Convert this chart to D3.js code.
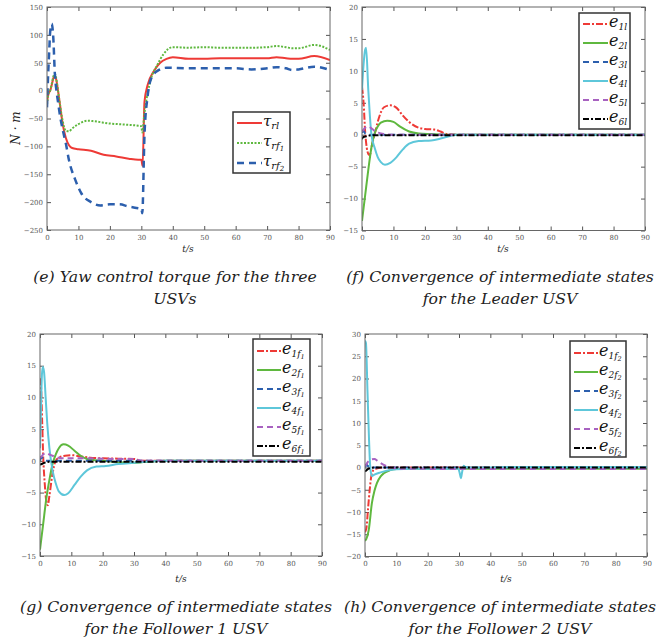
<!DOCTYPE html>
<html><head><meta charset="utf-8">
<script src="https://cdn.jsdelivr.net/npm/d3@7"></script>
<style>body{margin:0;background:#fff}svg{display:block}
svg text{font-family:"DejaVu Serif","Liberation Serif",serif;}
</style>
</head><body><svg id="c" width="666" height="642"></svg>
<script>
// ---------- DATA ----------
// (e) yaw control torque
const tRl  = [0,0.5,1,1.5,2,2.5,3,3.5,4,5,6,7,8,10,14,18,22,26,29,30,30.4,31,32,34,36,38,40,45,50,55,60,65,70,73,76,78,80,85,90];
const tauRl= [-20,-5,0,10,22,27,18,0,-20,-60,-85,-98,-103,-105,-108,-115,-118,-122,-124,-124,-135,-20,10,35,50,57,60,57,57,58,58,58,58,60,58,57,57,62,55];
const tRf1 = [0,0.5,1,1.5,2,2.5,3,3.5,4,5,6,7,8,10,13,15,20,25,29,30,30.3,31,32,33,35,37,40,45,50,55,60,65,70,73,76,78,80,85,90];
const tauRf1=[-25,-5,0,12,25,30,20,0,-20,-55,-72,-73,-68,-60,-54,-55,-59,-61,-63,-64,-75,-40,-5,20,45,65,78,77,78,77,77,77,78,80,78,76,76,82,73];
const tRf2 = [0,0.3,0.7,1,1.5,2,2.5,3,3.5,4,5,6,7,9,11,14,17,20,23,26,29,30,30.3,31,32,33,35,38,45,50,55,60,65,70,73,76,78,80,85,90];
const tauRf2=[-30,20,70,105,120,95,30,0,-20,-40,-70,-95,-125,-160,-185,-200,-206,-204,-204,-208,-211,-212,-220,-80,-10,20,35,41,40,40,40,40,38,40,42,40,37,38,43,37];

// (f) leader
const tE1l=[0,0.5,1,1.5,2,2.5,3,4,5,6,7,9,11,13,15,18,20,23,25,27,30,90];
const e1l =[7.5,5,0.5,-2,-3,-3.2,-2,0,2,3.5,4.3,4.6,4.2,3,2,1.1,0.9,0.8,0.5,0.1,0,0];
const tE2l=[0,1,2,3,4,5,6,8,10,12,15,18,22,28,90];
const e2l =[-13.5,-9.5,-5.5,-2,0.2,1.3,1.9,2.2,2,1.3,0.5,0.2,0.1,0,0];
const tE3l=[0,0.5,1,2,3,90];
const e3l =[0.3,0.6,0.2,0,0,0];
const tE4l=[0,0.5,1,1.3,2,2.5,3,4,5,6,7.3,9,11,13,15,18,22,25,28,30,90];
const e4l =[7,11,13.3,13.6,7,3,0,-2,-3.5,-4.3,-4.7,-4.4,-3.5,-2.3,-1.4,-1,-0.9,-0.6,-0.2,0,0];
const tE5l=[0,0.5,1,2,3,4,6,8,10,90];
const e5l =[0.5,0.8,1.1,1.3,1.0,0.6,0.2,0.05,0,0];
const tE6l=[0,0.3,1,2,3,5,90];
const e6l =[-0.7,-0.4,-0.3,-0.15,-0.1,-0.1,-0.1];

// (g) follower 1
const tE1f1=[0,0.3,0.7,1,1.5,2,2.5,3,4,5,6,8,10,13,16,20,25,30,31,32,90];
const e1f1 =[13,12,6,1,-3.5,-6.3,-7,-5.5,-2,0,0.5,0.8,0.9,0.7,0.5,0.4,0.35,0.3,0.2,0,0];
const tE2f1=[0,1,2,3,4,5,6,7.5,9,11,13,15,20,25,30,33,40,90];
const e2f1 =[-14,-10,-6,-3,-0.5,1,2,2.6,2.4,1.6,0.8,0.3,0,-0.2,-0.3,-0.2,0,0];
const tE3f1=[0,0.5,1,2,90];
const e3f1 =[0,0.6,0.3,0,0];
const tE4f1=[0,0.3,0.6,0.9,1.3,1.8,2.3,3,4,5,6,7.8,9,11,13,15,18,21,25,30,35,40,90];
const e4f1 =[2,8,13.5,14.8,14,10,6,2,-1.5,-3.5,-4.8,-5.4,-5.1,-3.8,-2.5,-1.5,-0.9,-0.8,-0.5,-0.3,-0.1,0,0];
const tE5f1=[0,0.5,1,2,3,4,6,8,10,15,20,25,30,31,33,90];
const e5f1 =[0.5,0.7,1.0,1.2,1.0,0.8,0.5,0.4,0.4,0.4,0.35,0.3,0.3,0.2,0,0];
const tE6f1=[0,0.5,1,2,3,5,90];
const e6f1 =[-0.6,-0.5,-0.4,-0.2,-0.15,-0.15,-0.15];

// (h) follower 2
const tE1f2=[0,0.4,1,1.5,2,2.5,3,4,6,90];
const e1f2 =[-14.5,-13.8,-9,-5,-2,-0.8,-0.4,-0.2,0,0];
const tE2f2=[0,0.4,1.2,2.2,3,3.8,5,6,8,10,15,20,90];
const e2f2 =[-16.5,-16.1,-14,-8,-5.3,-3.5,-2,-1.3,-0.6,-0.35,-0.3,-0.3,-0.3];
const tE3f2=[0,0.5,1,2,90];
const e3f2 =[0,0.6,0.3,0,0];
const tE4f2=[0,0.3,0.8,1.3,1.7,2.2,3,5,7,10,15,20,25,29.8,30.3,30.6,31,31.5,32,34,40,45,90];
const e4f2 =[28.5,28,17,6,-0.2,-1.9,-1.6,-1.1,-0.7,-0.4,-0.3,-0.3,-0.3,-0.3,-1.5,-2.4,-1,0.4,0.1,0,0,0.1,0.1];
const tE5f2=[0,0.5,1,2,3,4,5,7,9,12,90];
const e5f2 =[0.3,0.8,1.3,1.8,1.9,1.5,1,0.3,-0.1,-0.3,-0.35];
const tE6f2=[0,0.5,1,2,3,90];
const e6f2 =[-0.9,-0.6,-0.3,-0.1,0,0];

// ticks
const xTicks=[0,10,20,30,40,50,60,70,80,90];
const yTicksE=[-250,-200,-150,-100,-50,0,50,100,150];
const yTicksFG=[-15,-10,-5,0,5,10,15,20];
const yTicksH=[-20,-15,-10,-5,0,5,10,15,20,25,30];

// ---------- STYLE ----------
const C={red:"#ee3a36",green:"#5fb83f",blue:"#2c5fad",cyan:"#5ec7da",purple:"#a862c0",black:"#000"};
const ST={
  e1:{c:C.red,d:"7,2,2,2",w:2},
  e2:{c:C.green,d:null,w:2},
  e3:{c:C.blue,d:"6,4",w:2},
  e4:{c:C.cyan,d:null,w:2},
  e5:{c:C.purple,d:"6,4",w:2},
  e6:{c:C.black,d:"6,2,2,2",w:2}
};
const svg=d3.select("#c");

function zip(t,v){return t.map((x,i)=>[x,v[i]]);}

function panel(id,box,ydom,yticks,series,legend){
  const x=d3.scaleLinear().domain([0,90]).range([box.l,box.r]);
  const y=d3.scaleLinear().domain(ydom).range([box.b,box.t]);
  const g=svg.append("g");
  svg.append("clipPath").attr("id","cl"+id).append("rect")
    .attr("x",box.l).attr("y",box.t).attr("width",box.r-box.l).attr("height",box.b-box.t);
  const ax=(sel)=>{sel.attr("font-family",null);sel.selectAll(".domain").remove();sel.selectAll("line").attr("stroke","#555");
    sel.selectAll("text").attr("font-size",7).attr("fill","#555");};
  g.append("g").attr("transform",`translate(0,${box.b})`)
    .call(d3.axisBottom(x).tickValues(xTicks).tickSize(-4).tickPadding(5)).call(ax);
  g.append("g").attr("transform",`translate(0,${box.t})`)
    .call(d3.axisTop(x).tickValues(xTicks).tickSize(-4).tickFormat("")).call(ax);
  g.append("g").attr("transform",`translate(${box.l},0)`)
    .call(d3.axisLeft(y).tickValues(yticks).tickSize(-4).tickPadding(4)).call(ax);
  g.append("g").attr("transform",`translate(${box.r},0)`)
    .call(d3.axisRight(y).tickValues(yticks).tickSize(-4).tickFormat("")).call(ax);
  const line=d3.line().x(d=>x(d[0])).y(d=>y(d[1])).curve(d3.curveMonotoneX);
  const pg=g.append("g").attr("clip-path",`url(#cl${id})`);
  series.forEach(s=>{
    pg.append("path").datum(zip(s.t,s.v)).attr("d",line).attr("fill","none")
      .attr("stroke",s.st.c).attr("stroke-width",s.st.w).attr("stroke-dasharray",s.st.d)
      .attr("stroke-linejoin","round");
  });
  g.append("rect").attr("x",box.l).attr("y",box.t).attr("width",box.r-box.l).attr("height",box.b-box.t)
    .attr("fill","none").attr("stroke","#666").attr("stroke-width",1);
  // legend
  const L=legend;
  g.append("rect").attr("x",L.x).attr("y",L.y).attr("width",L.w).attr("height",L.h)
    .attr("fill","#fff").attr("stroke","#333").attr("stroke-width",1.5);
  series.forEach((s,i)=>{
    const yy=L.y0+i*L.dy;
    g.append("line").attr("x1",L.x+4).attr("x2",L.x+4+L.len).attr("y1",yy).attr("y2",yy)
      .attr("stroke",s.st.c).attr("stroke-width",s.st.w).attr("stroke-dasharray",s.st.d);
    const tx=g.append("text").attr("x",L.x+L.len+5).attr("y",yy+3)
      .attr("font-style","italic").attr("font-size",L.fs).attr("fill","#111");
    s.lab(tx);
  });
  return {x,y};
}
function lab(main,sub,subsub){
  return (tx)=>{
    tx.append("tspan").text(main);
    tx.append("tspan").attr("font-size",9).attr("dy",3).text(sub);
    if(subsub){tx.append("tspan").attr("font-size",6.5).attr("dy",1.5).text(subsub);}
  };
}

// (e)
panel("e",{l:47,r:330,t:7,b:230},[-250,150],yTicksE,[
  {t:tRl,v:tauRl,st:{c:C.red,d:null,w:2},lab:(tx)=>{tx.append("tspan").text("τ");tx.append("tspan").attr("font-size",10).attr("dy",3).text("rl");}},
  {t:tRf1,v:tauRf1,st:{c:C.green,d:"2,1.5",w:2},lab:(tx)=>{tx.append("tspan").text("τ");tx.append("tspan").attr("font-size",10).attr("dy",3).text("rf");tx.append("tspan").attr("font-size",7).attr("dy",1.5).text("1");}},
  {t:tRf2,v:tauRf2,st:{c:C.blue,d:"7,5",w:2.5},lab:(tx)=>{tx.append("tspan").text("τ");tx.append("tspan").attr("font-size",10).attr("dy",3).text("rf");tx.append("tspan").attr("font-size",7).attr("dy",1.5).text("2");}}
],{x:233,y:112,w:57,h:61,y0:123,dy:20,len:25,fs:15});

// (f)
panel("f",{l:362,r:645,t:7,b:230.5},[-15,20],yTicksFG,[
  {t:tE1l,v:e1l,st:ST.e1,lab:lab("e","1l")},
  {t:tE2l,v:e2l,st:ST.e2,lab:lab("e","2l")},
  {t:tE3l,v:e3l,st:ST.e3,lab:lab("e","3l")},
  {t:tE4l,v:e4l,st:ST.e4,lab:lab("e","4l")},
  {t:tE5l,v:e5l,st:ST.e5,lab:lab("e","5l")},
  {t:tE6l,v:e6l,st:ST.e6,lab:lab("e","6l")}
],{x:579,y:13,w:51,h:116,y0:24,dy:19,len:25,fs:16});

// (g)
panel("g",{l:40,r:322,t:334,b:556},[-15,20],yTicksFG,[
  {t:tE1f1,v:e1f1,st:ST.e1,lab:lab("e","1f","1")},
  {t:tE2f1,v:e2f1,st:ST.e2,lab:lab("e","2f","1")},
  {t:tE3f1,v:e3f1,st:ST.e3,lab:lab("e","3f","1")},
  {t:tE4f1,v:e4f1,st:ST.e4,lab:lab("e","4f","1")},
  {t:tE5f1,v:e5f1,st:ST.e5,lab:lab("e","5f","1")},
  {t:tE6f1,v:e6f1,st:ST.e6,lab:lab("e","6f","1")}
],{x:253,y:339,w:57,h:117,y0:351,dy:19,len:24,fs:16});

// (h)
panel("h",{l:365,r:647,t:334,b:556.5},[-20,30],yTicksH,[
  {t:tE1f2,v:e1f2,st:ST.e1,lab:lab("e","1f","2")},
  {t:tE2f2,v:e2f2,st:ST.e2,lab:lab("e","2f","2")},
  {t:tE3f2,v:e3f2,st:ST.e3,lab:lab("e","3f","2")},
  {t:tE4f2,v:e4f2,st:ST.e4,lab:lab("e","4f","2")},
  {t:tE5f2,v:e5f2,st:ST.e5,lab:lab("e","5f","2")},
  {t:tE6f2,v:e6f2,st:ST.e6,lab:lab("e","6f","2")}
],{x:570,y:341,w:56,h:116,y0:353,dy:19,len:24,fs:16});

// axis labels
[[188,252],[503,252],[181,582],[506,582]].forEach(p=>{
  svg.append("text").attr("x",p[0]).attr("y",p[1]).attr("text-anchor","middle")
    .attr("font-style","italic").attr("font-size",9).attr("fill","#222").text("t/s");
});
svg.append("text").attr("transform","translate(20,128) rotate(-90)").attr("text-anchor","middle")
  .attr("font-style","italic").attr("font-size",12).attr("fill","#222").text("N · m");

// captions
const caps=[
  [175,282,"(e) Yaw control torque for the three"],[175,304,"USVs"],
  [500,282,"(f) Convergence of intermediate states"],[500,304,"for the Leader USV"],
  [176,612,"(g) Convergence of intermediate states"],[176,634,"for the Follower 1 USV"],
  [500,612,"(h) Convergence of intermediate states"],[500,634,"for the Follower 2 USV"]
];
caps.forEach(c=>svg.append("text").attr("x",c[0]).attr("y",c[1]).attr("text-anchor","middle")
  .attr("font-style","italic").attr("font-size",15.7).attr("fill","#222").text(c[2]));
</script></body></html>
